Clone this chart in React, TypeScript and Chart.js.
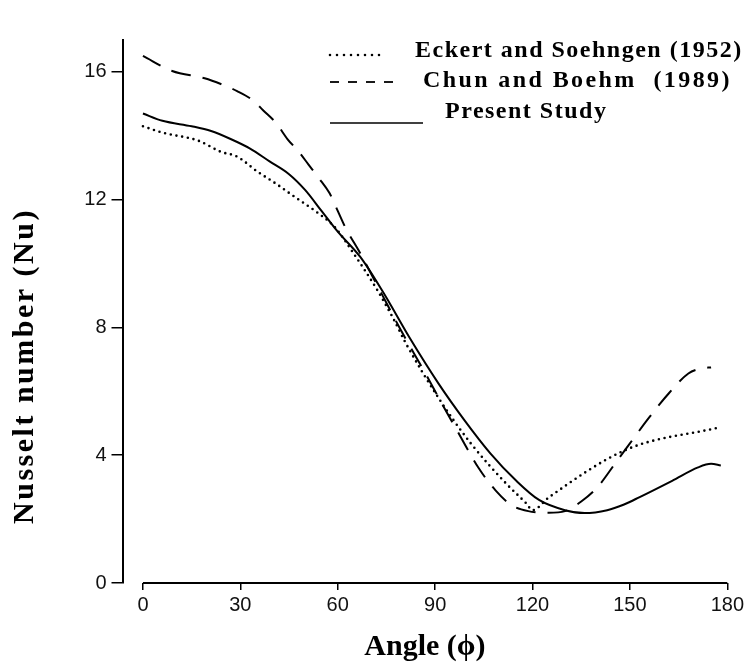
import React, { useEffect, useRef } from "react";
import { Chart, registerables } from "chart.js";

Chart.register(...registerables);

// ---- Data ----
const seriesLabels = [
  "Eckert and Soehngen (1952)",
  "Chun and Boehm  (1989)",
  "Present Study",
];

const angleEckert = [0, 6, 17, 24, 29, 35, 41, 47, 53, 59, 65, 72, 77, 81, 91, 101, 112, 118, 120, 125, 149, 177];
const nuEckert = [14.3, 14.1, 13.85, 13.5, 13.35, 12.9, 12.5, 12.07, 11.65, 11.15, 10.3, 9.2, 8.3, 7.5, 5.8, 4.37, 3.1, 2.5, 2.28, 2.68, 4.18, 4.86];

const angleChun = [0, 9, 19, 24.5, 29, 34, 37, 41, 44.5, 48, 51, 54, 57.5, 60, 62.5, 66.5, 73.5, 79, 87, 93, 97, 103.4, 108.6, 113.5, 118.7, 125, 130, 135, 140, 145.5, 150, 156, 162, 168, 172, 175];
const nuChun = [16.5, 16.03, 15.8, 15.6, 15.4, 15.1, 14.8, 14.4, 13.9, 13.5, 13.1, 12.7, 12.2, 11.65, 11.1, 10.4, 9.06, 8.0, 6.56, 5.45, 4.73, 3.6, 2.9, 2.44, 2.25, 2.2, 2.25, 2.55, 3.0, 3.75, 4.37, 5.19, 5.94, 6.56, 6.72, 6.75];

const anglePresent = [0, 6, 15, 21, 27, 33, 39, 45, 50, 55, 60, 67, 74, 82, 91, 99, 107, 115, 122, 130, 136, 143, 148, 153, 163, 171, 175, 178];
const nuPresent = [14.7, 14.47, 14.3, 14.15, 13.9, 13.6, 13.2, 12.8, 12.3, 11.65, 11.0, 10.2, 9.1, 7.7, 6.25, 5.1, 4.06, 3.2, 2.6, 2.28, 2.19, 2.28, 2.45, 2.69, 3.2, 3.62, 3.73, 3.68];

const xTickValues = [0, 30, 60, 90, 120, 150, 180];
const yTickValues = [0, 4, 8, 12, 16];
const xTitle = "Angle (\u03D5)";
const yTitle = "Nusselt number (Nu)";

const toPoints = (xs: number[], ys: number[]) => xs.map((x, i) => ({ x, y: ys[i] }));

const SERIF = '"Liberation Serif", "Times New Roman", "DejaVu Serif", serif';
const SANS = '"Liberation Sans", Arial, sans-serif';

const legendRows = [
  { x0: 330, x1: 383, ly: 55, tx: 415, ty: 57, dash: [0, 7], cap: "round" as CanvasLineCap, w: 2.6, ls: "1.5px" },
  { x0: 330, x1: 393, ly: 82, tx: 423, ty: 87, dash: [9, 9], cap: "butt" as CanvasLineCap, w: 1.8, ls: "2.4px" },
  { x0: 330, x1: 423, ly: 123, tx: 445, ty: 118, dash: [], cap: "butt" as CanvasLineCap, w: 1.6, ls: "1.5px" },
];

const decorPlugin = {
  id: "decor",
  afterDraw(chart: any) {
    const { ctx, scales } = chart;
    const xs = scales.x;
    const ys = scales.y;
    ctx.save();
    // offset x axis line, from first to last tick
    ctx.strokeStyle = "#000";
    ctx.lineWidth = 2;
    ctx.setLineDash([]);
    const y0 = ys.getPixelForValue(0);
    ctx.beginPath();
    ctx.moveTo(xs.getPixelForValue(xTickValues[0]), y0);
    ctx.lineTo(xs.getPixelForValue(xTickValues[xTickValues.length - 1]), y0);
    ctx.stroke();
    ctx.restore();

    // y title
    ctx.save();
    ctx.translate(25, 366);
    ctx.rotate(-Math.PI / 2);
    ctx.font = `bold 30px ${SERIF}`;
    (ctx as any).letterSpacing = "2.5px";
    ctx.textAlign = "center";
    ctx.textBaseline = "middle";
    ctx.fillStyle = "#000";
    ctx.fillText(yTitle, 0, 0);
    ctx.restore();

    // legend
    chart.data.datasets.forEach((ds: any, i: number) => {
      const r = legendRows[i];
      ctx.save();
      ctx.strokeStyle = "#000";
      ctx.lineWidth = r.w;
      ctx.lineCap = r.cap;
      ctx.setLineDash(r.dash);
      ctx.beginPath();
      ctx.moveTo(r.x0, r.ly);
      ctx.lineTo(r.x1, r.ly);
      ctx.stroke();
      ctx.font = `bold 24px ${SERIF}`;
      (ctx as any).letterSpacing = r.ls;
      ctx.fillStyle = "#000";
      ctx.textAlign = "left";
      ctx.textBaseline = "alphabetic";
      ctx.fillText(ds.label, r.tx, r.ty);
      ctx.restore();
    });
  },
};

export default function App() {
  const canvasRef = useRef<HTMLCanvasElement | null>(null);

  useEffect(() => {
    if (!canvasRef.current) return;
    const chart = new Chart(canvasRef.current, {
      type: "line",
      data: {
        datasets: [
          {
            label: seriesLabels[0],
            data: toPoints(angleEckert, nuEckert),
            borderColor: "#000",
            borderWidth: 2.6,
            borderDash: [0, 5.8],
            borderCapStyle: "round",
            pointRadius: 0,
            cubicInterpolationMode: "monotone",
            fill: false,
          },
          {
            label: seriesLabels[1],
            data: toPoints(angleChun, nuChun),
            borderColor: "#000",
            borderWidth: 2,
            borderDash: [20, 12],
            pointRadius: 0,
            cubicInterpolationMode: "monotone",
            fill: false,
          },
          {
            label: seriesLabels[2],
            data: toPoints(anglePresent, nuPresent),
            borderColor: "#000",
            borderWidth: 2,
            pointRadius: 0,
            cubicInterpolationMode: "monotone",
            fill: false,
          },
        ],
      },
      options: {
        animation: false,
        responsive: false,
        layout: { padding: { left: 0, right: 19, top: 40, bottom: 0 } },
        plugins: { legend: { display: false }, tooltip: { enabled: false } },
        scales: {
          x: {
            type: "linear",
            min: -6.3,
            max: 180,
            afterBuildTicks: (s: any) => {
              s.ticks = xTickValues.map((v) => ({ value: v }));
            },
            afterFit: (s: any) => {
              s.height = 82;
            },
            grid: { drawOnChartArea: false, drawTicks: true, tickLength: 7, color: "#000", lineWidth: 1.5 },
            border: { display: false },
            ticks: { color: "#111", font: { family: SANS, size: 20 }, padding: 3, maxRotation: 0 },
            title: {
              display: true,
              text: xTitle,
              color: "#000",
              font: { family: SERIF, size: 30, weight: "bold" },
              padding: { top: 0, bottom: 0 },
            },
          },
          y: {
            type: "linear",
            min: 0,
            max: 17,
            afterBuildTicks: (s: any) => {
              s.ticks = yTickValues.map((v) => ({ value: v }));
            },
            afterFit: (s: any) => {
              s.width = 122.5;
            },
            grid: { drawOnChartArea: false, drawTicks: true, tickLength: 11, color: "#000", lineWidth: 1.5 },
            border: { display: true, color: "#000", width: 2 },
            ticks: { color: "#111", font: { family: SANS, size: 20 }, padding: 5 },
          },
        },
      },
      plugins: [decorPlugin],
    } as any);
    return () => chart.destroy();
  }, []);

  return (
    <div style={{ position: "absolute", left: 0, top: 0, width: 747, height: 665, background: "#fff" }}>
      <canvas ref={canvasRef} width={747} height={665} style={{ display: "block" }} />
    </div>
  );
}
